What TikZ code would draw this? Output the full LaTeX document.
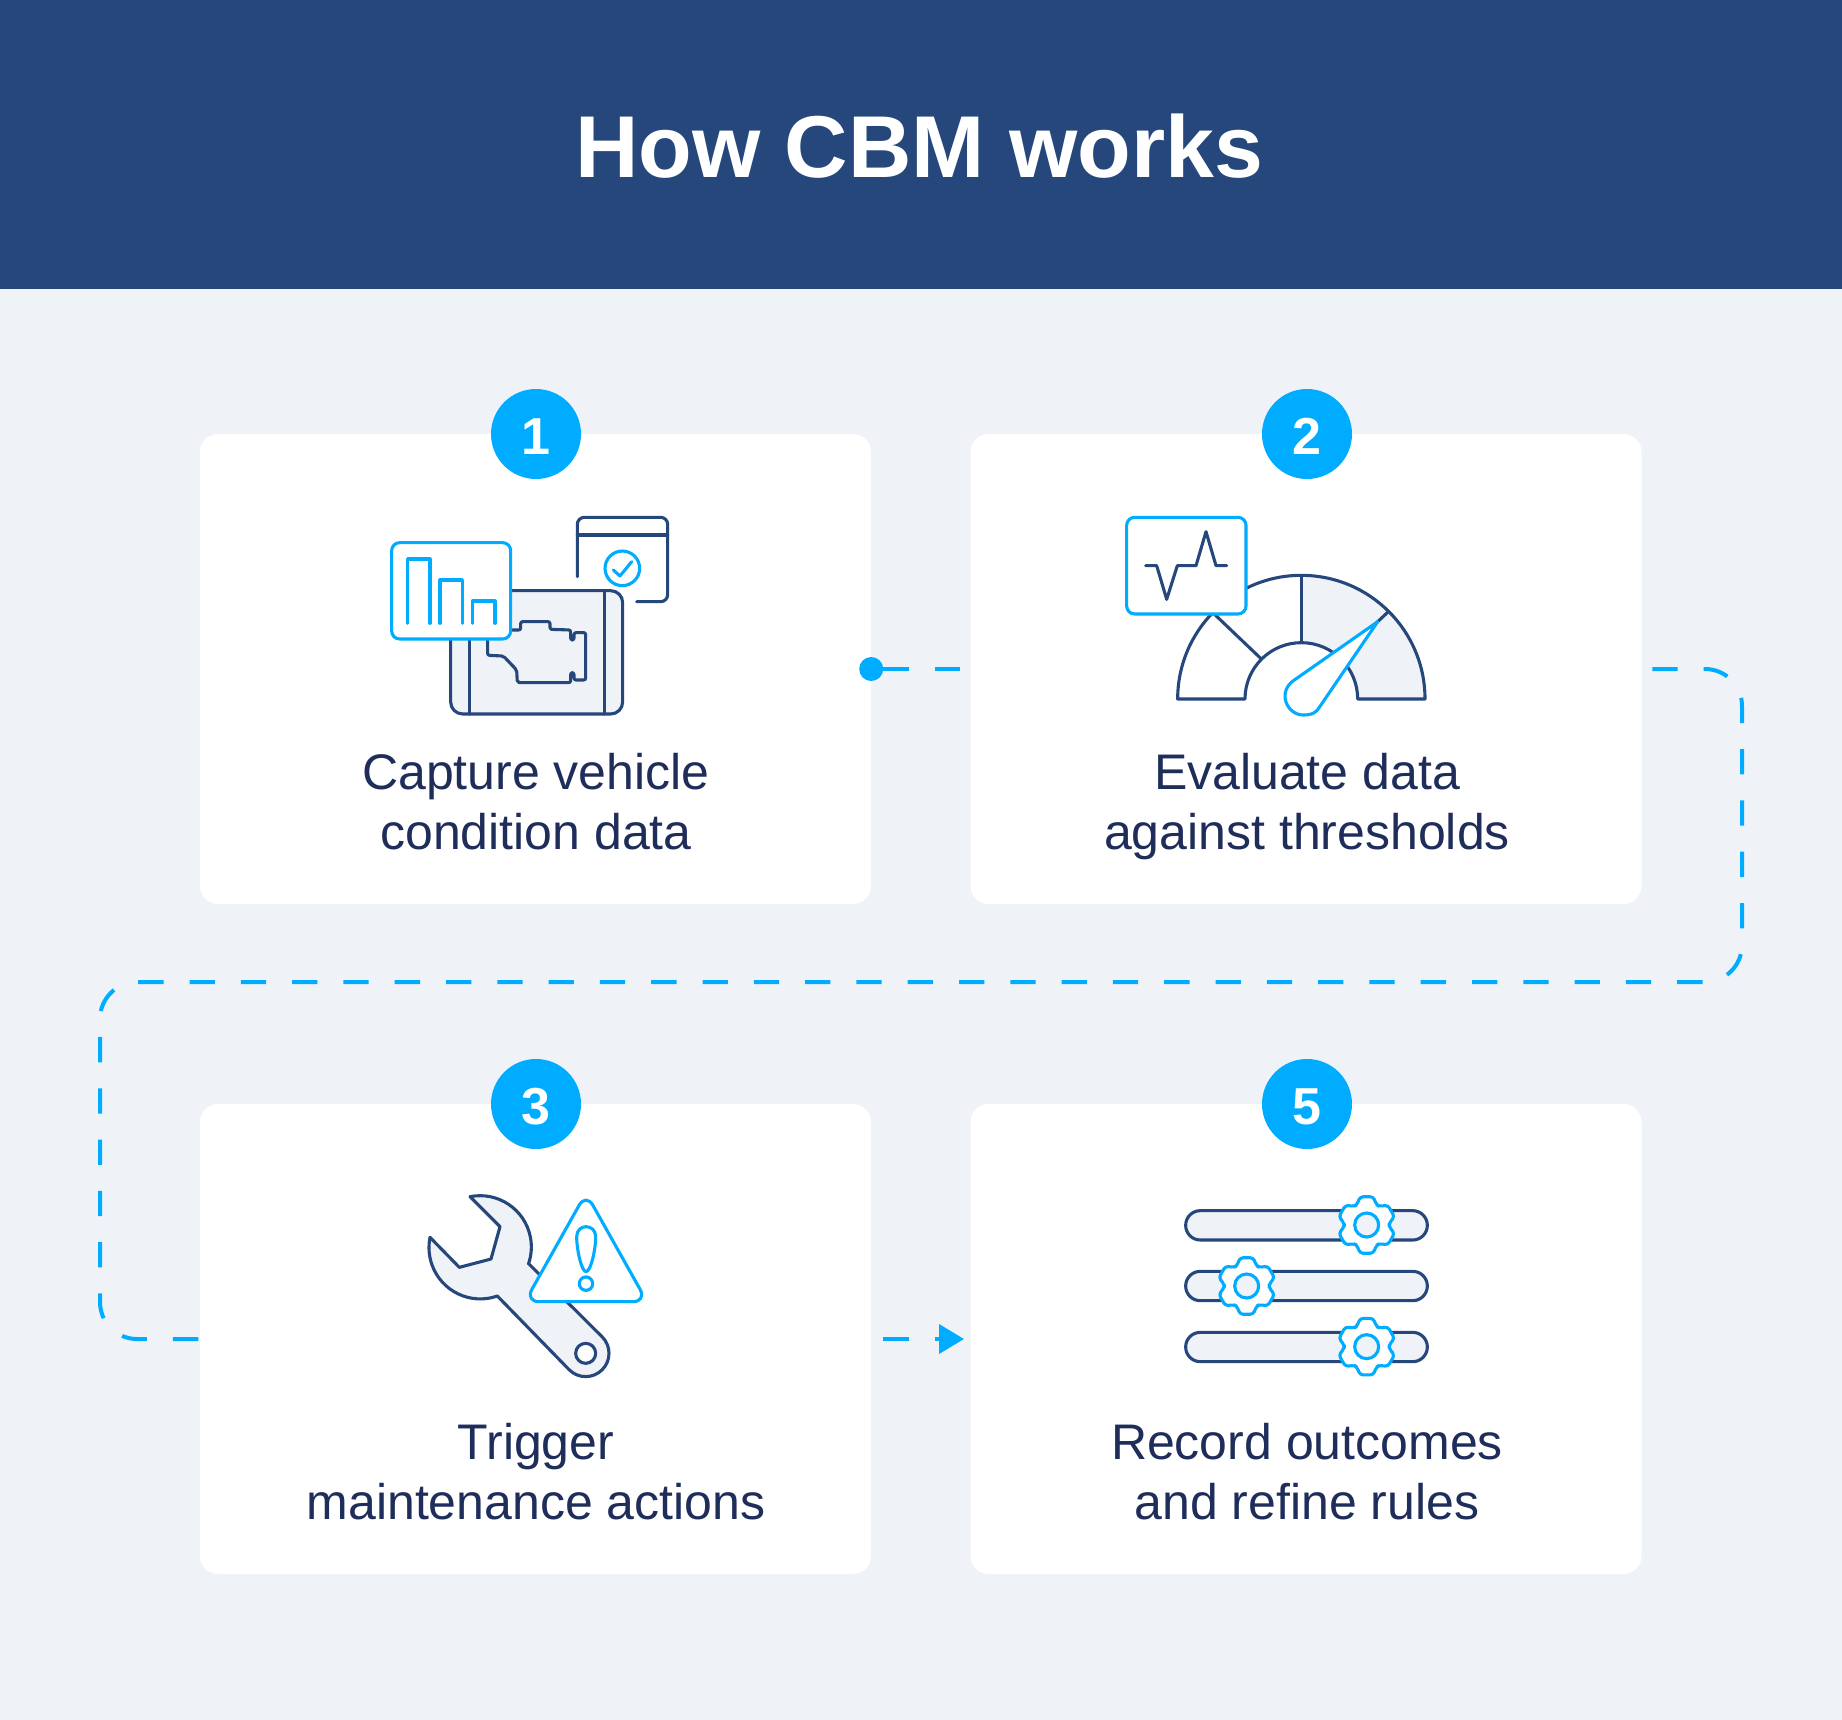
\documentclass[tikz,border=0pt]{standalone}
\usepackage{fontspec}
\setmainfont{Liberation Sans}
\usetikzlibrary{arrows.meta}
\definecolor{headc}{HTML}{26477B}
\definecolor{bgc}{HTML}{EFF2F7}
\definecolor{bluec}{HTML}{00ACFF}
\definecolor{navyc}{HTML}{26477B}
\definecolor{textc}{HTML}{1F2D5A}
\newcommand{\badgedigit}[1]{\raisebox{-2.5pt}[\height][0pt]{#1}}
\tikzset{
  card/.style={fill=white,rounded corners=18pt,minimum width=671pt,minimum height=470pt,inner sep=0pt,draw=none},
  badge/.style={circle,fill=bluec,text=white,minimum size=90pt,inner sep=0pt,font=\fontsize{52}{52}\selectfont\bfseries},
  label/.style={align=center,text=textc,font=\fontsize{50}{60}\selectfont,inner sep=0pt},
  flow/.style={draw=bluec,line width=4pt,dash pattern=on 25.3pt off 26pt},
  inav/.style={draw=navyc,line width=3.1pt,line join=round,line cap=round},
  iblu/.style={draw=bluec,line width=3.1pt,line join=round,line cap=round},
  zoomed/.style={x=.33333pt,y=-.33333pt},
  gearpic/.pic={
    \draw[iblu,fill=white,rounded corners=3pt]
      (64:22.5pt) -- (77:29pt) -- (103:29pt) -- (116:22.5pt) --
      (124:22.5pt) -- (137:29pt) -- (163:29pt) -- (176:22.5pt) --
      (184:22.5pt) -- (197:29pt) -- (223:29pt) -- (236:22.5pt) --
      (244:22.5pt) -- (257:29pt) -- (283:29pt) -- (296:22.5pt) --
      (304:22.5pt) -- (317:29pt) -- (343:29pt) -- (356:22.5pt) --
      (4:22.5pt) -- (17:29pt) -- (43:29pt) -- (56:22.5pt) -- cycle;
    \draw[iblu,fill=bgc] (0,0) circle (12pt);
  }
}
\begin{document}
\begin{tikzpicture}[x=1pt,y=-1pt]
\useasboundingbox (0,0) rectangle (1842,1720);
\fill[bgc] (0,0) rectangle (1842,1720);
\fill[headc] (0,0) rectangle (1842,289.5);
\node[text=white,inner sep=0pt,font=\fontsize{87.8}{90}\selectfont\bfseries] (title) at (919,146) {How CBM works};

\coordinate (ne) at (1742,669);
\coordinate (se) at (1742,982);
\coordinate (sw) at (100,982);
\coordinate (nw) at (100,1339);
\coordinate (c1e) at (871,669);
\coordinate (c2w) at (971,669);
\coordinate (c2e) at (1641,669);
\coordinate (c3w) at (200,1339);
\coordinate (c3e) at (871,1339);
\coordinate (c5w) at (971,1339);

% connectors (the cards lie on top)
\draw[flow,dash phase=39pt] (c1e) -- (c2w);
\draw[flow,dash phase=40pt,rounded corners=37pt] (c2e) -- (ne) -- (se) -- (sw) -- (nw) -- (c3w);
\draw[flow,dash phase=39pt,-{Triangle[length=25pt,width=29pt]},shorten >=7pt] (c3e) -- (c5w);

\node[card] (card1) at (535.5,669) {};
\node[card] (card2) at (1306,669) {};
\node[card] (card3) at (535.5,1339) {};
\node[card] (card5) at (1306,1339) {};
\fill[bluec] (card1.east) circle (12pt);

\node[badge] (b1) at (536,434) {\badgedigit{1}};
\node[badge] (b2) at (1307,434) {\badgedigit{2}};
\node[badge] (b3) at (536,1104) {\badgedigit{3}};
\node[badge] (b5) at (1307,1104) {\badgedigit{5}};

\node[label] (t1) at (536,807.6) {\strut Capture vehicle\strut\\\strut condition data\strut};
\node[label] (t2) at (1307,807.6) {\strut Evaluate data\strut\\\strut against thresholds\strut};
\node[label] (t3) at (536,1477.6) {\strut Trigger\strut\\\strut maintenance actions\strut};
\node[label] (t5) at (1307,1477.6) {\strut Record outcomes\strut\\\strut and refine rules\strut};

% icon 1
\begin{scope}[shift={(370,500)},zoomed]
  \draw[inav,rounded corners=7pt] (622,230) -- (622,52) -- (893,52) -- (893,305) -- (800,305);
  \draw[inav] (622,105) -- (893,105);
  \draw[iblu] (757,205) circle (17.3pt);
  \draw[iblu] (730,210) -- (750,228) -- (785,185);
  \draw[inav,fill=bgc,rounded corners=12pt] (242,272) rectangle (758,642);
  \draw[inav] (298,272) -- (298,642) (703,272) -- (703,642);
  \draw[inav,rounded corners=2pt] (353,420) -- (353,466) -- (400,468) -- (440,510) -- (442,548) -- (602,548) -- (602,518) -- (612,518) -- (612,540) -- (647,540) -- (647,398) -- (612,398) -- (612,420) -- (602,420) -- (602,390) -- (540,388) -- (540,365) -- (452,365) -- (452,390) -- (400,390);
  \draw[iblu,fill=white,rounded corners=8pt] (65,128) rectangle (422,417);
  \draw[iblu] (113,370) -- (113,177) -- (180,177) -- (180,370);
  \draw[iblu] (210,370) -- (210,240) -- (277,240) -- (277,370);
  \draw[iblu] (307,370) -- (307,303) -- (375,303) -- (375,370);
\end{scope}

% icon 2
\begin{scope}[shift={(1110,500)},zoomed]
  \fill[bgc] (574,226) arc (90:0:123.67pt) -- (743,597) arc (0:90:56.33pt) -- cycle;
  \draw[inav] (203,597) arc (180:0:123.67pt) -- (743,597) arc (0:180:56.33pt) -- cycle;
  \draw[inav] (574,226) -- (574,428);
  \draw[inav] (300,330) -- (452,475);
  \draw[inav] (835,335) -- (800,368);
  \draw[iblu,fill=white] (803,365) -- (553,540) .. controls (500,575) and (530,645) .. (580,645) .. controls (610,645) and (620,635) .. (628,622) -- cycle;
  \draw[iblu,fill=white,rounded corners=8pt] (50,52) rectangle (408,342);
  \draw[inav] (107,197) -- (140,197) -- (170,298) -- (202,197) -- (258,197) -- (288,95) -- (318,197) -- (350,197);
\end{scope}

% icon 3
\begin{scope}[shift={(410,1180)},zoomed]
  \draw[inav,fill=bgc] (180,50) arc (101.3:-19:51.3pt) -- (355,250) -- (576.5,470.5) arc (45:-135:23.3pt) -- (262,348) arc (-70.6:-190.6:51.3pt) -- (60,172) -- (148,262) -- (243,237) -- (270,140) -- cycle;
  \draw[inav,fill=white] (527,520) circle (10pt);
  \draw[iblu,fill=white,rounded corners=14pt] (528,39) -- (711,365) -- (345,365) -- cycle;
  \draw[iblu] (528,275) .. controls (515,275) and (500,210) .. (500,170) .. controls (500,150) and (515,140) .. (528,140) .. controls (542,140) and (557,150) .. (557,170) .. controls (557,210) and (542,275) .. (528,275) -- cycle;
  \draw[iblu] (528,311) circle (6.7pt);
\end{scope}

% icon 5
\begin{scope}[shift={(1170,1180)},zoomed]
  \draw[inav,fill=bgc,rounded corners=14.6pt] (47,92) rectangle (772,180);
  \draw[inav,fill=bgc,rounded corners=14.6pt] (47,274) rectangle (772,362);
  \draw[inav,fill=bgc,rounded corners=14.6pt] (47,457) rectangle (772,545);
  \pic at (590,135) {gearpic};
  \pic at (230,318) {gearpic};
  \pic at (590,500) {gearpic};
\end{scope}
\end{tikzpicture}
\end{document}
